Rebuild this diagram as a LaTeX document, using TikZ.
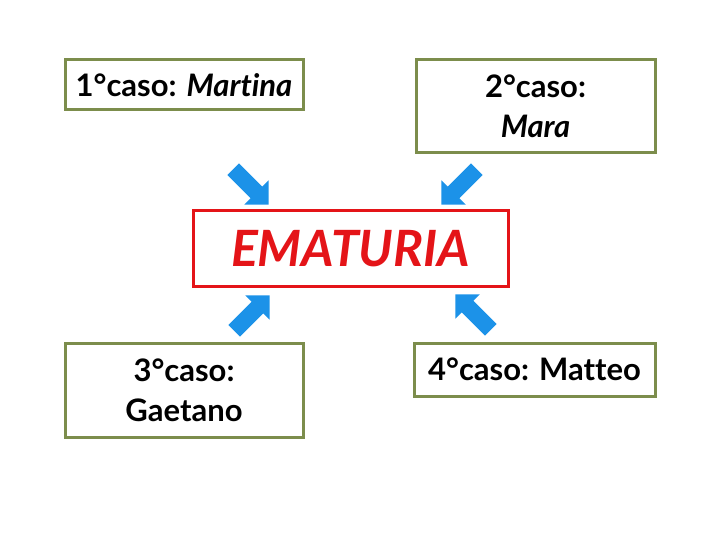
\documentclass[tikz,border=0pt]{standalone}
\usepackage{fontspec}
\setmainfont{Lato}[Ligatures=NoCommon]
\usetikzlibrary{shapes.arrows}
\definecolor{casoOlive}{RGB}{124,141,76}
\definecolor{emaRed}{RGB}{228,20,24}
\definecolor{arrBlue}{RGB}{28,146,232}

\begin{document}
\begin{tikzpicture}[x=1pt,y=-1pt,
  casobox/.style={draw=casoOlive, line width=3pt, inner sep=0pt, align=center, fill=white,
    font=\fontsize{31}{40}\selectfont\bfseries},
  emabox/.style={draw=emaRed, line width=3pt, inner sep=0pt, text=emaRed,
    font=\fontsize{50}{56}\selectfont\bfseries\itshape},
  bluearr/.style={single arrow, fill=arrBlue, draw=none, inner sep=8pt, minimum height=50pt, single arrow head extend=9pt}]
\useasboundingbox (0,0) rectangle (720,540);
\node[casobox, minimum width=238pt, minimum height=50pt] (caso1) at (184,85) {1°caso: \textit{Martina}};
\node[casobox, minimum width=239pt, minimum height=93pt] (caso2) at (535.5,106.5) {2°caso:\\\textit{Mara}};
\node[emabox, minimum width=315pt, minimum height=75pt] (ematuria) at (350.5,248.5) {EMATURIA};
\node[casobox, minimum width=238pt, minimum height=94pt] (caso3) at (184,390) {3°caso:\\Gaetano};
\node[casobox, minimum width=241pt, minimum height=53pt] (caso4) at (534.5,369.5) {4°caso: Matteo};
\node[bluearr, rotate=-45] (arr1) at (248,184) {};
\node[bluearr, rotate=-135] (arr2) at (462,184) {};
\node[bluearr, rotate=45] (arr3) at (249,316) {};
\node[bluearr, rotate=135] (arr4) at (476,315) {};
\end{tikzpicture}
\end{document}
